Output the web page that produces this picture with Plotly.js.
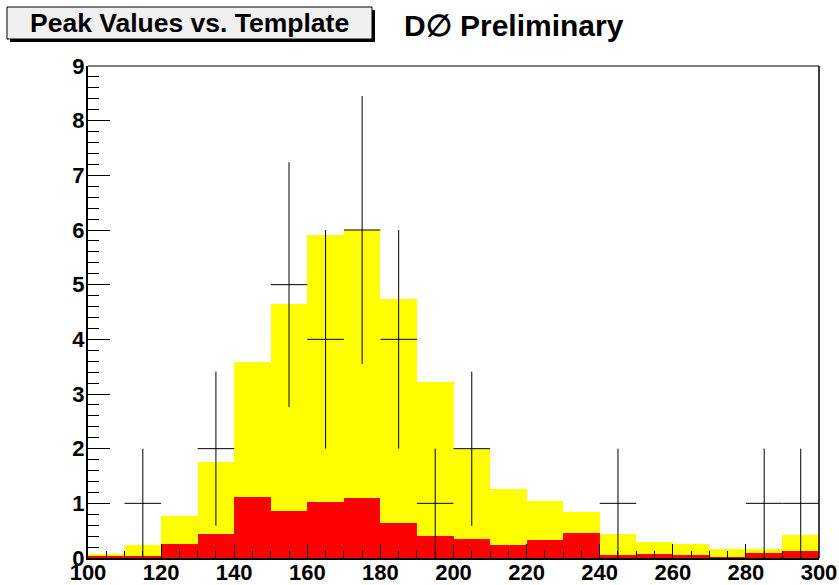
<!DOCTYPE html>
<html>
<head>
<meta charset="utf-8">
<script src="https://cdn.plot.ly/plotly-3.0.1.min.js"></script>
<style>html,body{margin:0;padding:0;background:#fff;}#chart{width:839px;height:585px;}</style>
</head>
<body>
<div id="chart"></div>
<script>
// Bin centres (bins of width 10 from 100 to 300)
const binCenters = [105,115,125,135,145,155,165,175,185,195,205,215,225,235,245,255,265,275,285,295];
// Total template (yellow) and background (red)
const totalValues = [0.07,0.23,0.76,1.76,3.59,4.65,5.90,6.00,4.74,3.22,2.00,1.26,1.05,0.85,0.43,0.29,0.25,0.16,0.16,0.42];
const bkgValues   = [0.03,0.04,0.25,0.44,1.12,0.86,1.02,1.09,0.64,0.41,0.35,0.23,0.33,0.45,0.06,0.08,0.06,0.02,0.10,0.12];
// Data points
const dataX    = [115,135,155,165,175,185,195,205,245,285,295];
const dataY    = [1,2,5,4,6,4,1,2,1,1,1];
const dataErr  = [1,1.41,2.24,2,2.45,2,1,1.41,1,1,1];
const halfBin  = 5;
const xTickVals = [100,120,140,160,180,200,220,240,260,280,300];
const yTickVals = [0,1,2,3,4,5,6,7,8,9];
const titleText = "Peak Values vs. Template";
const labelText = "D\u2205 Preliminary";

const W = 839, H = 585;
const M = {l: 88, r: 20, t: 66, b: 27};
const pw = W - M.l - M.r, ph = H - M.t - M.b;
const px = v => (v - M.l) / pw;
const py = v => (H - M.b - v) / ph;

const FONT = "Liberation Sans, Arial, Helvetica, sans-serif";

const traces = [
  {type: 'bar', x: binCenters, y: totalValues, width: 10,
   marker: {color: '#ffff00', line: {width: 0}}, hoverinfo: 'skip'},
  {type: 'bar', x: binCenters, y: bkgValues, width: 10,
   marker: {color: '#ff0000', line: {width: 0}}, hoverinfo: 'skip'},
  {type: 'scatter', mode: 'markers', x: dataX, y: dataY,
   marker: {size: 1, color: 'rgba(0,0,0,0)'},
   error_y: {type: 'data', array: dataErr, visible: true, width: 0, thickness: 1, color: '#000'},
   error_x: {type: 'constant', value: halfBin, visible: true, width: 0, thickness: 1, color: '#000'}}
];

const layout = {
  width: W, height: H,
  margin: M,
  paper_bgcolor: '#fff', plot_bgcolor: '#fff',
  showlegend: false,
  barmode: 'overlay', bargap: 0,
  font: {family: FONT, color: '#000'},
  xaxis: {
    range: [100, 300], tickmode: 'array', tickvals: xTickVals,
    ticks: 'inside', ticklen: 14, tickwidth: 1, tickcolor: '#000',
    minor: {dtick: 5, tick0: 100, ticks: 'inside', ticklen: 7, tickwidth: 1, tickcolor: '#000', showgrid: false},
    showline: true, linewidth: 2, linecolor: '#000',
    showgrid: false, zeroline: false, ticklabelstandoff: -6,
    tickfont: {family: FONT, size: 22, weight: 'bold', color: '#000'}
  },
  yaxis: {
    range: [0, 9], tickmode: 'array', tickvals: yTickVals,
    ticks: 'inside', ticklen: 22, tickwidth: 1, tickcolor: '#000',
    minor: {dtick: 0.2, tick0: 0, ticks: 'inside', ticklen: 11, tickwidth: 1, tickcolor: '#000', showgrid: false},
    showline: true, linewidth: 2, linecolor: '#000',
    showgrid: false, zeroline: false, ticklabelstandoff: -3,
    tickfont: {family: FONT, size: 22, weight: 'bold', color: '#000'}
  },
  shapes: [
    {type: 'line', xref: 'paper', yref: 'paper', x0: 0, x1: 1, y0: 1, y1: 1, line: {color: '#000', width: 1}},
    {type: 'line', xref: 'paper', yref: 'paper', x0: 1, x1: 1, y0: 0, y1: 1, line: {color: '#000', width: 1.5}},
    {type: 'rect', xref: 'paper', yref: 'paper', x0: px(10), x1: px(375), y0: py(42), y1: py(10),
     fillcolor: '#000', line: {width: 0}},
    {type: 'rect', xref: 'paper', yref: 'paper', x0: px(7), x1: px(372), y0: py(39), y1: py(7),
     fillcolor: '#f0f0f0', line: {color: '#000', width: 1}}
  ],
  annotations: [
    {xref: 'paper', yref: 'paper', x: px(189.5), y: py(23), xanchor: 'center', yanchor: 'middle',
     text: titleText, showarrow: false,
     font: {family: FONT, size: 26.5, weight: 'bold', color: '#000'}},
    {xref: 'paper', yref: 'paper', x: px(402), y: py(25), xanchor: 'left', yanchor: 'middle',
     text: labelText, showarrow: false,
     font: {family: FONT, size: 30, weight: 'bold', color: '#000'}}
  ]
};

Plotly.newPlot('chart', traces, layout, {displayModeBar: false, staticPlot: true});
</script>
</body>
</html>
